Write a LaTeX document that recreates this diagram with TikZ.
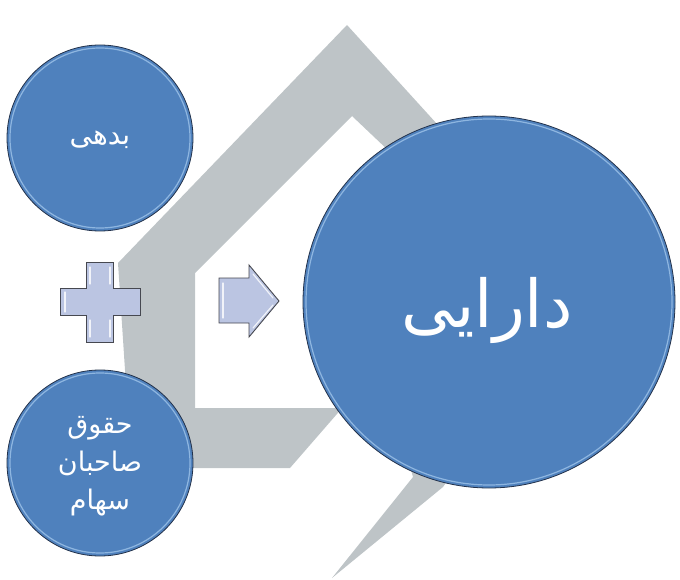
\documentclass[tikz,border=0pt]{standalone}
\usepackage{fontspec}
\usetikzlibrary{positioning}
\newfontfamily\farsifont[Script=Arabic]{DejaVu Sans}
\TeXXeTstate=1
\definecolor{discblue}{RGB}{79,129,189}
\definecolor{discrim}{RGB}{35,50,75}
\definecolor{discglint}{RGB}{170,205,240}
\definecolor{housegray}{RGB}{190,196,199}
\definecolor{signfill}{RGB}{187,197,226}
\definecolor{signedge}{RGB}{70,72,80}

\begin{document}
\begin{tikzpicture}[
    x=1pt, y=-1pt,
    every node/.style={font=\farsifont, text=white},
    % Blue discs
    disc/.style={circle, fill=discblue, draw=discrim, line width=0.8pt,
                 minimum size=#1, inner sep=0pt},
    % light rim inside each disc
    glint/.style={draw=discglint, line width=1.2pt, opacity=0.7},
    % plus and block arrow
    sign/.style={fill=signfill, draw=signedge, line width=0.9pt, line join=miter},
    shine/.style={draw=white, line width=1.2pt, opacity=0.8, line cap=round}
]
\useasboundingbox (0,0) rectangle (680,580);

% === GRAY HOUSE BAND ===
\fill[housegray, even odd rule]
    (347,25) -- (497,190) -- (455,470) -- (443,487) -- (332,578)
    -- (413,477) -- (400,430) -- (370,376) -- (290,468) -- (130,468)
    -- (125,370) -- (118,263) -- cycle
    (352,116) -- (195,273) -- (195,408) -- (338,408) -- (365,378)
    -- (430,190) -- cycle;

% === DISCS ===

% Top left: debt
\node [disc=186pt] (debt) at (100,138) {};
\draw[glint] (debt.center) circle[radius=90];
\node [font=\farsifont\fontsize{28}{32}\selectfont] (debtlabel) at (100,140)
    {\beginR بدهی\endR};

% Bottom left: equity
\node [disc=186pt] (equity) at (100,463) {};
\draw[glint] (equity.center) circle[radius=90];
\node [align=center, font=\farsifont\fontsize{27}{38}\selectfont] (equitylabel)
    at (100,466)
    {\beginR حقوق\endR\\ \beginR صاحبان\endR\\ \beginR سهام\endR};

% Right: assets
\node [disc=372pt] (assets) at (489,302) {};
\draw[glint] (assets.center) circle[radius=183];
\node [font=\farsifont\fontsize{66}{70}\selectfont] (assetslabel) at (487,310)
    {\beginR دارایی\endR};

% === PLUS SIGN ===
\draw[sign] (86.5,262) -- (113.5,262) -- (113.5,288.5) -- (140,288.5)
    -- (140,315.5) -- (113.5,315.5) -- (113.5,342) -- (86.5,342)
    -- (86.5,315.5) -- (60,315.5) -- (60,288.5) -- (86.5,288.5) -- cycle;
\draw[shine] (90,267) -- (90,284);
\draw[shine] (110,267) -- (110,284);
\draw[shine] (65,292) -- (65,312);
\draw[shine] (90,320) -- (90,337);
\draw[shine] (110,320) -- (110,337);

% === BLOCK ARROW ===
\draw[sign] (219,278) -- (249,278) -- (249,265) -- (279,301) -- (249,337)
    -- (249,323) -- (219,323) -- cycle;
\draw[shine] (223,283) -- (223,318);
\draw[shine] (253,274) -- (273,298);
\draw[shine] (253,328) -- (273,305);

\end{tikzpicture}
\end{document}
